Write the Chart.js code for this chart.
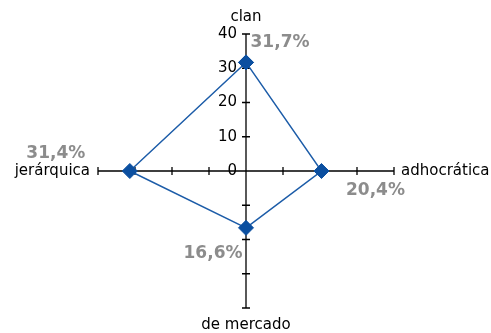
<!DOCTYPE html>
<html>
<head>
<meta charset="utf-8">
<script src="https://cdn.jsdelivr.net/npm/chart.js@4"></script>
<style>
  html, body { margin: 0; padding: 0; background: #fff; }
  #wrap { width: 491px; height: 333px; }
</style>
</head>
<body>
<div id="wrap"><canvas id="chart" width="491" height="333"></canvas></div>
<script>
// radar axes, clockwise from the top
const categories = ['clan', 'adhocrática', 'de mercado', 'jerárquica'];
const values = [31.7, 20.4, 16.6, 31.4];
const valueLabels = ['31,7%', '20,4%', '16,6%', '31,4%'];
const tickValues = [0, 10, 20, 30, 40];
const tickLabels = ['0', '10', '20', '30', '40'];
const maxValue = 40;

// label offsets from the marker (pixels)
const labelOffsets = [[34, -20], [54, 20], [-33, 26], [-74, -17]];

// each axis points in its own direction
function toPoint(v, i) {
    const a = i * Math.PI / 2;
    return { x: Math.round(v * Math.sin(a) * 100) / 100, y: Math.round(v * Math.cos(a) * 100) / 100 };
}
const points = values.map(toPoint);
points.push(points[0]);

const axisPlugin = {
    id: 'radarAxes',
    beforeDatasetsDraw(chart) {
        const ctx = chart.ctx;
        const xs = chart.scales.x, ys = chart.scales.y;
        const cx = xs.getPixelForValue(0), cy = ys.getPixelForValue(0);
        ctx.save();
        ctx.strokeStyle = '#000';
        ctx.lineWidth = 1.3;
        ctx.beginPath();
        ctx.moveTo(xs.getPixelForValue(-maxValue), cy);
        ctx.lineTo(xs.getPixelForValue(maxValue), cy);
        ctx.moveTo(cx, ys.getPixelForValue(maxValue));
        ctx.lineTo(cx, ys.getPixelForValue(-maxValue));
        tickValues.forEach(t => {
            [t, -t].forEach(v => {
                if (v === 0) return;
                const px = xs.getPixelForValue(v);
                ctx.moveTo(px, cy - 4);
                ctx.lineTo(px, cy + 4);
                const py = ys.getPixelForValue(v);
                ctx.moveTo(cx - 4, py);
                ctx.lineTo(cx + 4, py);
            });
        });
        ctx.stroke();

        ctx.fillStyle = '#000';
        ctx.font = '15px "DejaVu Sans"';
        ctx.textAlign = 'right';
        ctx.textBaseline = 'middle';
        tickValues.forEach((t, i) => {
            ctx.fillText(tickLabels[i], cx - 9, ys.getPixelForValue(t));
        });
        ctx.restore();
    },
    afterDatasetsDraw(chart) {
        const ctx = chart.ctx;
        const xs = chart.scales.x, ys = chart.scales.y;
        const cx = xs.getPixelForValue(0), cy = ys.getPixelForValue(0);
        ctx.save();
        ctx.font = '15px "DejaVu Sans"';
        ctx.fillStyle = '#000';
        ctx.textBaseline = 'middle';
        ctx.textAlign = 'center';
        ctx.fillText(categories[0], cx, ys.getPixelForValue(maxValue) - 17);
        ctx.fillText(categories[2], cx, ys.getPixelForValue(-maxValue) + 17);
        ctx.textAlign = 'left';
        ctx.fillText(categories[1], xs.getPixelForValue(maxValue) + 7, cy);
        ctx.textAlign = 'right';
        ctx.fillText(categories[3], xs.getPixelForValue(-maxValue) - 8, cy);

        ctx.font = 'bold 17px "DejaVu Sans"';
        ctx.fillStyle = '#8c8c8c';
        ctx.textAlign = 'center';
        values.forEach((v, i) => {
            const p = toPoint(v, i);
            const px = xs.getPixelForValue(p.x), py = ys.getPixelForValue(p.y);
            ctx.fillText(valueLabels[i], px + labelOffsets[i][0], py + labelOffsets[i][1]);
        });
        ctx.restore();
    }
};

new Chart(document.getElementById('chart'), {
    type: 'scatter',
    data: {
        datasets: [{
            data: points,
            showLine: true,
            borderColor: '#1c5ca8',
            borderWidth: 1.5,
            backgroundColor: '#0b4fa0',
            pointBackgroundColor: '#0b4fa0',
            pointBorderColor: '#0b4fa0',
            pointStyle: 'rectRot',
            pointRadius: 7.5,
            pointBorderWidth: 1
        }]
    },
    options: {
        responsive: false,
        animation: false,
        layout: { padding: { left: 98, right: 97, top: 34, bottom: 25 } },
        plugins: { legend: { display: false }, tooltip: { enabled: false } },
        scales: {
            x: { type: 'linear', min: -maxValue, max: maxValue, display: false },
            y: { type: 'linear', min: -maxValue, max: maxValue, display: false }
        }
    },
    plugins: [axisPlugin]
});
</script>
</body>
</html>
